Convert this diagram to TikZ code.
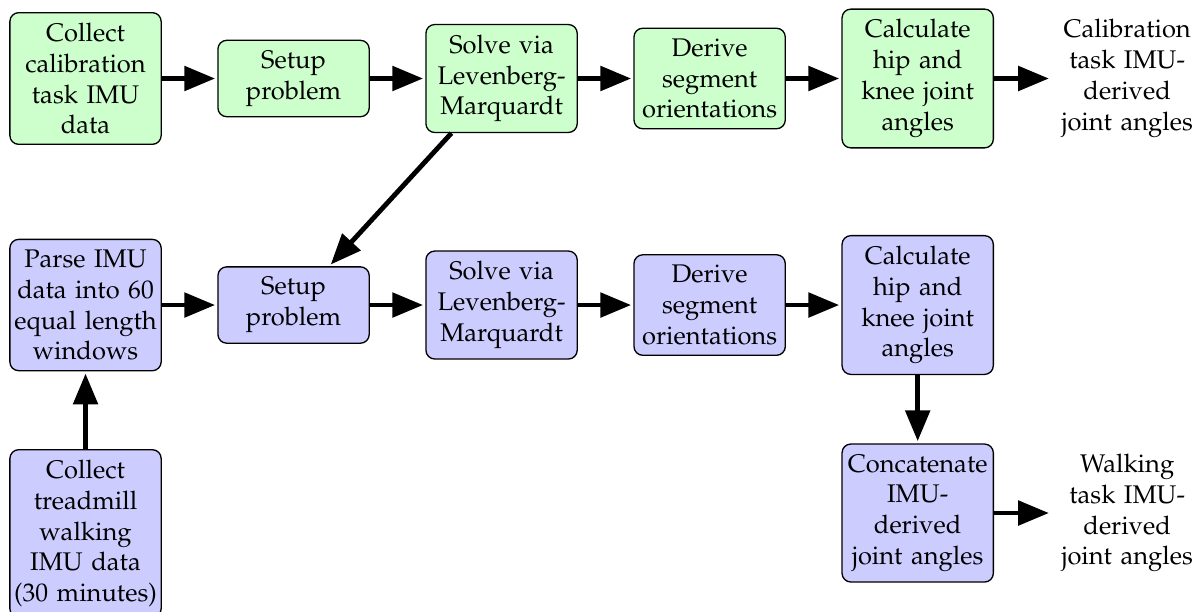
\documentclass[tikz,border=0pt]{standalone}
\usepackage[T1]{fontenc}
\usepackage{mathpazo}
\usetikzlibrary{arrows.meta}

\begin{document}
\begin{tikzpicture}[
  box/.style={draw,rectangle,rounded corners,text width=2.36cm,align=center,inner xsep=0.8pt,inner ysep=4.7pt,line width=0.6pt,font=\fontsize{11.6}{14}\selectfont},
  calib/.style={box,fill=green!20},
  walk/.style={box,fill=blue!20},
  result/.style={text width=2.36cm,align=center,inner xsep=0.8pt,font=\fontsize{11.6}{14}\selectfont},
  flow/.style={line width=2.2pt,-{Triangle[length=14pt,width=11pt]},shorten >=1pt}
]
\useasboundingbox (0,0) rectangle (19.07,9.76);

% calibration task
\node[calib] (cCollect) at (1.366,8.506) {Collect\\ calibration\\ task IMU\\ data};
\node[calib] (cSetup) at (4.689,8.506) {Setup\\ problem};
\node[calib] (cSolve) at (8.011,8.506) {Solve via\\ Levenberg-\\ Marquardt};
\node[calib] (cDerive) at (11.334,8.506) {Derive\\ segment\\ orientations};
\node[calib] (cCalc) at (14.657,8.506) {Calculate\\ hip and\\ knee joint\\ angles};
\node[result] (cOut) at (18.003,8.506) {Calibration\\ task IMU-\\ derived\\ joint angles};

% walking task
\node[walk] (wParse) at (1.366,4.888) {Parse IMU\\ data into 60\\ equal length\\ windows};
\node[walk] (wSetup) at (4.689,4.888) {Setup\\ problem};
\node[walk] (wSolve) at (8.011,4.888) {Solve via\\ Levenberg-\\ Marquardt};
\node[walk] (wDerive) at (11.334,4.888) {Derive\\ segment\\ orientations};
\node[walk] (wCalc) at (14.657,4.888) {Calculate\\ hip and\\ knee joint\\ angles};
\node[walk,anchor=north] (wCollect) at (1.366,2.588) {Collect\\ treadmill\\ walking\\ IMU data\\ (30 minutes)};
\node[walk] (wConcat) at (14.657,1.566) {Concatenate\\ IMU-\\ derived\\ joint angles};
\node[result] (wOut) at (18.003,1.566) {Walking\\ task IMU-\\ derived\\ joint angles};

\draw[flow] (cCollect) -- (cSetup);
\draw[flow] (cSetup) -- (cSolve);
\draw[flow] (cSolve) -- (cDerive);
\draw[flow] (cDerive) -- (cCalc);
\draw[flow] (cCalc) -- (cOut);
\draw[flow] (cSolve) -- (wSetup);

\draw[flow] (wCollect) -- (wParse);
\draw[flow] (wParse) -- (wSetup);
\draw[flow] (wSetup) -- (wSolve);
\draw[flow] (wSolve) -- (wDerive);
\draw[flow] (wDerive) -- (wCalc);
\draw[flow] (wCalc) -- (wConcat);
\draw[flow] (wConcat) -- (wOut);

\end{tikzpicture}
\end{document}
